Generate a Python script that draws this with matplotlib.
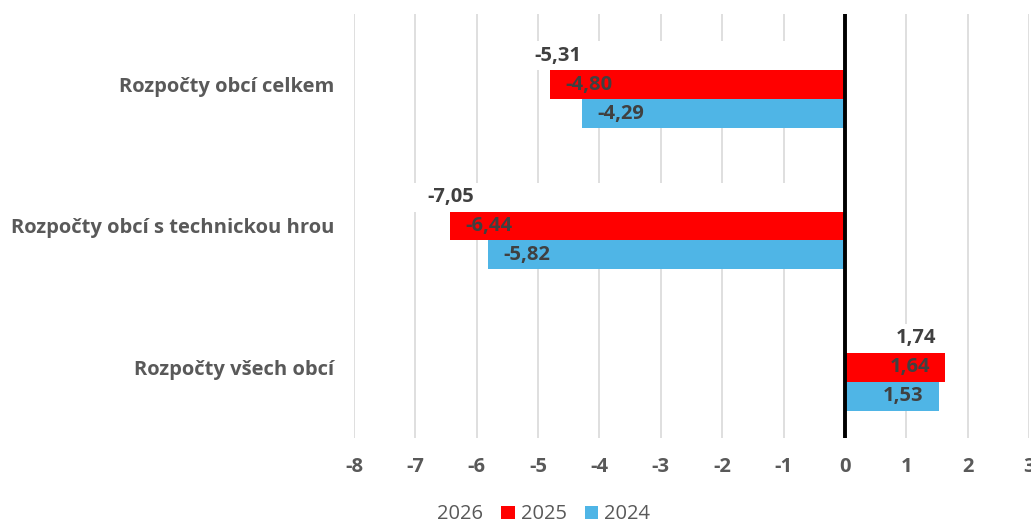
import matplotlib
matplotlib.use("Agg")
import matplotlib.pyplot as plt
from matplotlib.patches import Patch
import numpy as np

plt.rcParams['font.family'] = ['Open Sans', 'DejaVu Sans']

categories = ["Rozpočty obcí celkem", "Rozpočty obcí s technickou hrou", "Rozpočty všech obcí"]
series_names = ["2026", "2025", "2024"]
values_2026 = [-5.31, -7.05, 1.74]
values_2025 = [-4.80, -6.44, 1.64]
values_2024 = [-4.29, -5.82, 1.53]
series_values = [values_2026, values_2025, values_2024]
series_colors = ["#FFFFFF", "#FF0000", "#4FB5E6"]
x_ticks = [-8, -7, -6, -5, -4, -3, -2, -1, 0, 1, 2, 3]
x_tick_labels = ["-8", "-7", "-6", "-5", "-4", "-3", "-2", "-1", "0", "1", "2", "3"]

fig = plt.figure(figsize=(10.31, 5.26), dpi=100)
ax = fig.add_axes([0.3434, 1 - 438 / 526, 0.6546, (438 - 14) / 526])

gray = "#595959"
label_gray = "#404040"
bar_h = 0.205
offsets = [-bar_h, 0, bar_h]
y = np.arange(len(categories))

for vals, off, col in zip(series_values, offsets, series_colors):
    ypos = y + off
    ax.barh(ypos, vals, height=bar_h, color=col, zorder=2)
    for yy, v in zip(ypos, vals):
        txt = f"{v:.2f}".replace(".", ",")
        dx = 11 if v < 0 else -11
        ax.annotate(txt, xy=(v, yy), xytext=(dx, 0), textcoords="offset points",
                    ha="left" if v < 0 else "right", va="center",
                    fontsize=14.5, fontweight="bold", color=label_gray, zorder=3)

ax.set_xlim(-8, 3)
ax.set_ylim(len(categories) - 0.5, -0.5)
ax.set_xticks(x_ticks)
ax.set_xticklabels(x_tick_labels, fontsize=14.5, fontweight="bold", color=gray)
ax.set_yticks(y)
ax.set_yticklabels(categories, fontsize=14.5, fontweight="bold", color=gray)
ax.tick_params(axis="x", length=0, pad=14)
ax.tick_params(axis="y", length=0, pad=14)
ax.grid(axis="x", color="#D9D9D9", linewidth=1.2, zorder=0)
ax.set_axisbelow(True)
for s in ax.spines.values():
    s.set_visible(False)
ax.axvline(0, color="black", linewidth=2.8, zorder=4)

handles = [Patch(facecolor=c, edgecolor="none") for c in series_colors]
fig.legend(handles, series_names, loc="center", bbox_to_anchor=(0.518, 0.022),
           ncol=3, frameon=False, fontsize=14.5, labelcolor=gray,
           handlelength=0.65, handleheight=0.65, handletextpad=0.3, columnspacing=0.9,
           borderpad=0.1)

fig.savefig("out.png", dpi=100)
